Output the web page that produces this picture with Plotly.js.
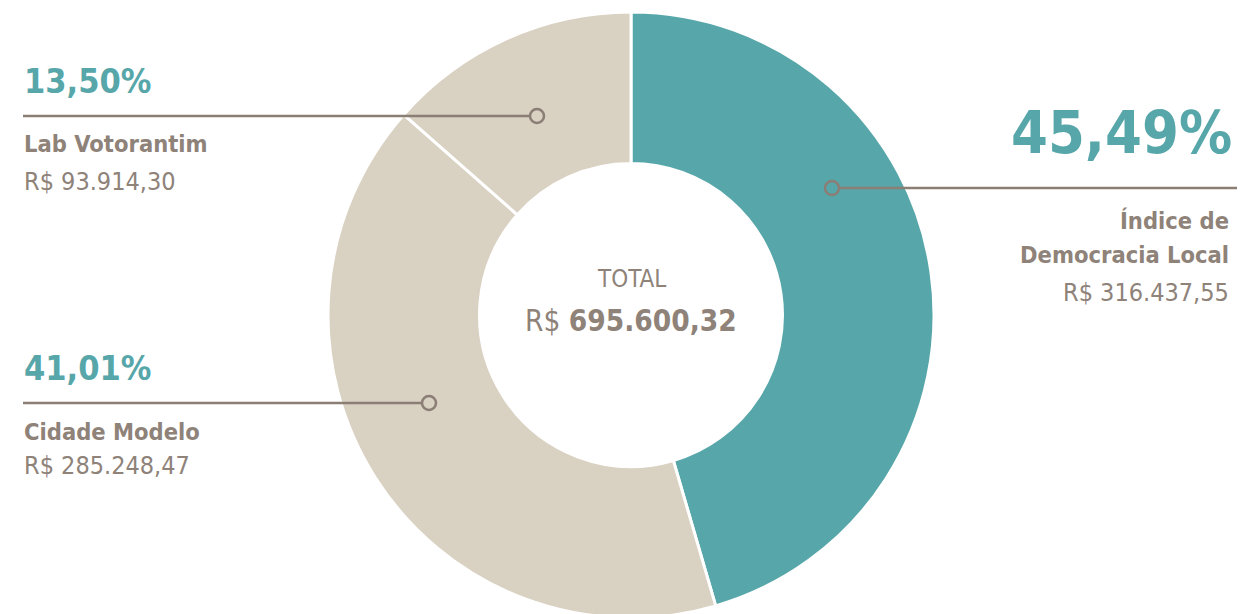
<!DOCTYPE html>
<html>
<head>
<meta charset="utf-8">
<script src="https://cdn.plot.ly/plotly-3.0.1.min.js"></script>
<style>
html,body{margin:0;padding:0;overflow:hidden;background:#fff;}
#chart{width:1241px;height:630px;}
</style>
</head>
<body>
<div id="chart"></div>
<script>
// Data
const labels = ["Índice de Democracia Local", "Cidade Modelo", "Lab Votorantim"];
const labelLines = [["Índice de", "Democracia Local"], ["Cidade Modelo"], ["Lab Votorantim"]];
const values = [316437.55, 285248.47, 93914.30];
const sliceColors = ["#57a6a9", "#d9d1c2", "#d9d1c2"];
const totalLabel = "TOTAL";

const W = 1241, H = 630;
const TEAL = "#57a6a9", GREY = "#8e8279", LINE = "#8a7e75";
const FONT = "DejaVu Sans Condensed, DejaVu Sans, sans-serif";

function fmtBR(v){
  const parts = v.toFixed(2).split(".");
  const int = parts[0].replace(/\B(?=(\d{3})+(?!\d))/g, ".");
  return int + "," + parts[1];
}
const total = values.reduce((a,b)=>a+b,0);
const pcts = values.map(v => (v/total*100).toFixed(2).replace(".", ",") + "%");

const px = x => x / W;
const py = y => 1 - y / H;

const cx = 631, cy = 315, R = 303;

const trace = {
  type: "pie",
  labels: labels,
  values: values,
  sort: false,
  direction: "clockwise",
  rotation: 0,
  hole: 0.5,
  textinfo: "none",
  hoverinfo: "none",
  marker: {colors: sliceColors, line: {color: "#ffffff", width: 3}},
  domain: {x: [px(cx - R), px(cx + R)], y: [py(cy + R), py(cy - R)]},
  showlegend: false
};

const annotations = [];
function txt(x, y, text, size, color, anchor, bold){
  annotations.push({
    xref: "paper", yref: "paper", x: px(x), y: py(y),
    xanchor: anchor, yanchor: "middle", showarrow: false,
    text: bold ? "<b>" + text + "</b>" : text,
    font: {family: FONT, size: size, color: color}
  });
}

const LBL = 23.5, AMT = 25;

// Índice (right)
txt(1234, 132, pcts[0], 59, TEAL, "right", true);
txt(1231, 221, labelLines[0][0], LBL, GREY, "right", true);
txt(1231, 255, labelLines[0][1], LBL, GREY, "right", true);
txt(1231, 292, "R$ " + fmtBR(values[0]), AMT, GREY, "right", false);

// Lab Votorantim (top-left)
txt(22, 81, pcts[2], 34, TEAL, "left", true);
txt(22, 144, labelLines[2][0], LBL, GREY, "left", true);
txt(22, 181, "R$ " + fmtBR(values[2]), AMT, GREY, "left", false);

// Cidade Modelo (bottom-left)
txt(22, 368, pcts[1], 34, TEAL, "left", true);
txt(22, 432, labelLines[1][0], LBL, GREY, "left", true);
txt(22, 465, "R$ " + fmtBR(values[1]), AMT, GREY, "left", false);

// Center
txt(cx, 279, totalLabel, 24, GREY, "center", false);
annotations.push({
  xref: "paper", yref: "paper", x: px(cx), y: py(321),
  xanchor: "center", yanchor: "middle", showarrow: false,
  text: "R$ <b>" + fmtBR(total) + "</b>",
  font: {family: FONT, size: 29.5, color: GREY}
});

const shapes = [];
function leader(x0, x1, y, cxm){
  shapes.push({type: "line", xref: "paper", yref: "paper",
    x0: px(x0), x1: px(x1), y0: py(y), y1: py(y),
    line: {color: LINE, width: 2.5}});
  shapes.push({type: "circle", xref: "paper", yref: "paper",
    xsizemode: "pixel", ysizemode: "pixel",
    xanchor: px(cxm), yanchor: py(y),
    x0: -7, x1: 7, y0: -7, y1: 7,
    line: {color: LINE, width: 2.5}, fillcolor: "rgba(0,0,0,0)"});
}
leader(23, 530, 116, 537);
leader(23, 422, 403, 429);
leader(839, 1237, 188, 832);

const layout = {
  width: W, height: H,
  margin: {l: 0, r: 0, t: 0, b: 0},
  paper_bgcolor: "#ffffff",
  plot_bgcolor: "#ffffff",
  showlegend: false,
  annotations: annotations,
  shapes: shapes
};

Plotly.newPlot("chart", [trace], layout, {displayModeBar: false, staticPlot: true});
</script>
</body>
</html>
